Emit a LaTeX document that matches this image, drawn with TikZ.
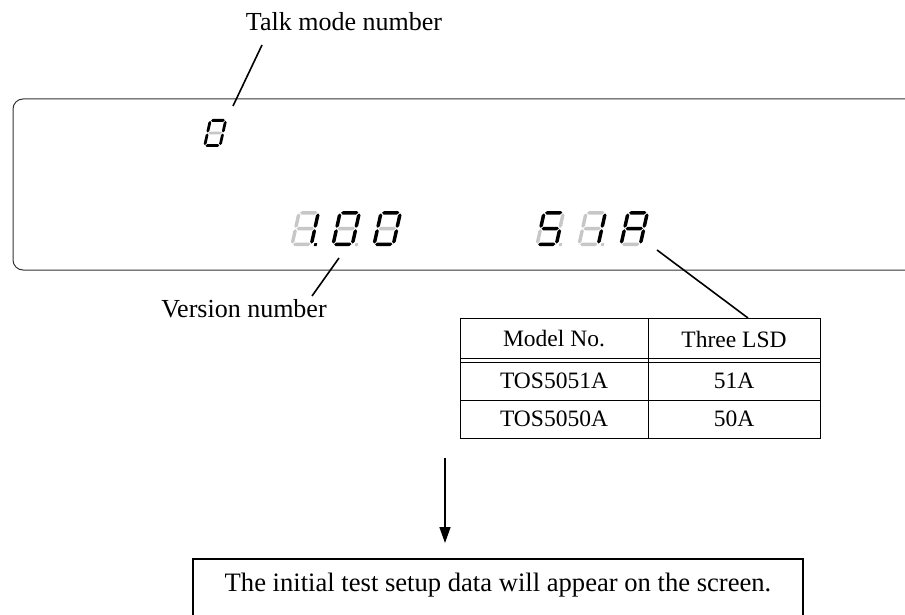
\documentclass[tikz,border=0pt]{standalone}
\usepackage{fontspec}
\setmainfont{Liberation Serif}
\usetikzlibrary{arrows.meta}

\newcommand{\labelsize}{\fontsize{26}{31}\selectfont}
\newcommand{\resultsize}{\fontsize{26.6}{32}\selectfont}
\newcommand{\cellsize}{\fontsize{23.5}{28}\selectfont}

% seven segment pieces, local units (digit height = 1)
\newcommand{\hseg}[2]{\path[#1] (0.08,#2) -- (0.13,#2+0.05) -- (0.52,#2+0.05) -- (0.57,#2) -- (0.52,#2-0.05) -- (0.13,#2-0.05) -- cycle;}
\newcommand{\vseg}[4]{\path[#1] (#2,#3+0.02) -- (#2+0.05,#3+0.07) -- (#2+0.05,#4-0.07) -- (#2,#4-0.02) -- (#2-0.05,#4-0.07) -- (#2-0.05,#3+0.07) -- cycle;}
\newcommand{\segdigit}[4]{%
  \begin{scope}[shift={(#1,#2)},x={(#3pt,0pt)},y={(0pt,#3pt)},xslant=0.22]
    \foreach \sa/\sb/\sc/\sd/\se/\sf/\sg/\sp in {#4} {
      \hseg{\sa}{0.95}
      \vseg{\sb}{0.6}{0.5}{0.95}
      \vseg{\sc}{0.6}{0.05}{0.5}
      \hseg{\sd}{0.05}
      \vseg{\se}{0.05}{0.05}{0.5}
      \vseg{\sf}{0.05}{0.5}{0.95}
      \hseg{\sg}{0.5}
      \path[\sp] (0.68,0) rectangle (0.76,0.08);
    }
  \end{scope}}

\begin{document}
\begin{tikzpicture}[x=1pt,y=-1pt,
    segon/.style={fill=black},
    segoff/.style={fill=black!22},
    segnone/.style={},
    lbl/.style={font=\labelsize, inner sep=0pt},
    cell/.style={font=\cellsize, inner sep=0pt},
    leader/.style={line width=1.6pt},
    rule/.style={line width=0.8pt}]
    \useasboundingbox (0,0) rectangle (905,615);

    % display window, open to the right
    \draw[line width=1pt, black!80, rounded corners=10pt] (920,99) -- (13,99) -- (13,270) -- (920,270);

    % talk mode digit
    \segdigit{203}{147}{28}{segon/segon/segon/segon/segon/segon/segoff/segnone}
    % version 1.00
    \segdigit{290}{246}{35}{segoff/segon/segon/segoff/segoff/segoff/segoff/segon}
    \segdigit{331}{246}{35}{segon/segon/segon/segon/segon/segon/segoff/segoff}
    \segdigit{372}{246}{35}{segon/segon/segon/segon/segon/segon/segoff/segnone}
    % three LSD 51A
    \segdigit{535}{246}{35}{segon/segoff/segon/segon/segoff/segon/segon/segoff}
    \segdigit{577}{246}{35}{segoff/segon/segon/segoff/segoff/segoff/segoff/segoff}
    \segdigit{619}{246}{35}{segon/segon/segon/segoff/segon/segon/segon/segnone}

    % labels and leaders
    \node[lbl] (talk) at (344,22) {Talk mode number};
    \coordinate (talkfoot) at (262,45);
    \coordinate (talktip) at (233,106);
    \draw[leader] (talkfoot) -- (talktip);

    \node[lbl] (version) at (244,309) {Version number};
    \coordinate (vertip) at (339,258);
    \coordinate (verfoot) at (312,296);
    \draw[leader] (vertip) -- (verfoot);

    \coordinate (lsdtip) at (657,250);
    \coordinate (tabtop) at (748,318);
    \draw[leader] (lsdtip) -- (tabtop);

    % model table
    \draw[rule] (460,318) rectangle (820,438);
    \draw[rule] (648,318) -- (648,438);
    \draw[rule] (460,358) -- (820,358);
    \draw[rule] (460,362) -- (820,362);
    \draw[rule] (460,400) -- (820,400);
    \node[cell] (hmodel) at (554,339) {Model No.};
    \node[cell] (hlsd) at (734,339) {Three LSD};
    \node[cell] (modela) at (554,381) {TOS5051A};
    \node[cell] (lsda) at (734,381) {51A};
    \node[cell] (modelb) at (554,419) {TOS5050A};
    \node[cell] (lsdb) at (734,419) {50A};

    % arrow to result
    \coordinate (arrtop) at (445,458);
    \coordinate (arrtip) at (445,543);
    \draw[line width=1.6pt, -{Triangle[length=16pt,width=11pt]}] (arrtop) -- (arrtip);

    \draw[line width=2.4pt] (193,559) rectangle (803,640);
    \node[font=\resultsize, inner sep=0pt] (result) at (498,585) {The initial test setup data will appear on the screen.};
\end{tikzpicture}
\end{document}
